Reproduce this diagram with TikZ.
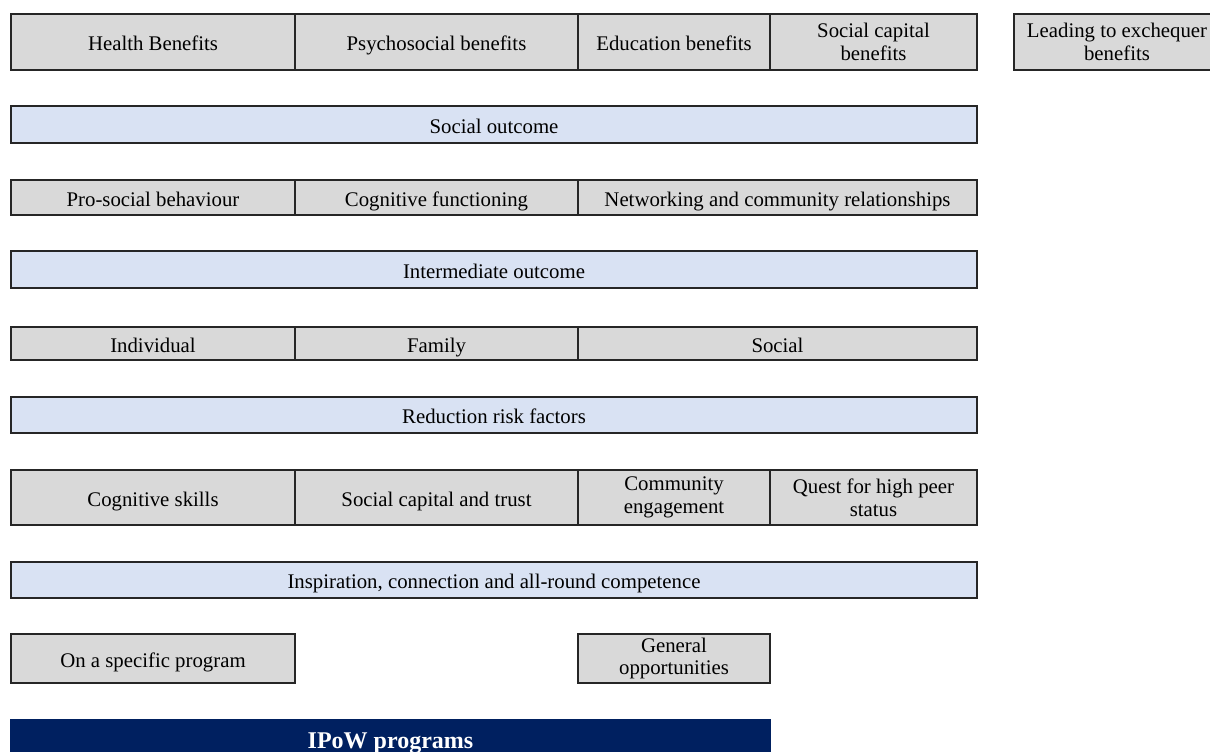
\documentclass[tikz,border=0pt]{standalone}
\usepackage{fontspec}
\setmainfont{Liberation Serif}
\usepackage{xcolor}
\usetikzlibrary{positioning}
\definecolor{mGrey}{HTML}{D9D9D9}
\definecolor{mBlue}{HTML}{D9E2F3}
\definecolor{mNavy}{HTML}{002060}

\begin{document}
\begin{tikzpicture}[x=1pt, y=-1pt,
  cell/.style={draw=black!85, line width=1.5pt, fill=mGrey, inner sep=0pt, outer sep=0pt,
               align=center, font=\fontsize{20.8}{22.8}\selectfont},
  oneline/.style={text height=17pt, text depth=0pt},
  band/.style={cell, oneline, fill=mBlue},
  base/.style={cell, text height=15pt, text depth=0pt, fill=mNavy, draw=mNavy, text=white,
               font=\fontsize{24}{26}\selectfont\bfseries},
]
  \useasboundingbox (0,0) rectangle (1210,752);

  % Top row: benefits
  \node[cell, oneline, minimum width=284pt, minimum height=56pt] (health) at (153,42) {Health Benefits};
  \node[cell, oneline, minimum width=283pt, minimum height=56pt] (psycho) at (436.5,42) {Psychosocial benefits};
  \node[cell, oneline, minimum width=192pt, minimum height=56pt] (educ) at (674,42) {Education benefits};
  \node[cell, minimum width=207pt, minimum height=56pt] (capital) at (873.5,42) {Social capital\\benefits};
  \node[cell, minimum width=206pt, minimum height=56pt] (exchequer) at (1117,42) {Leading to exchequer\\benefits};

  \node[band, minimum width=966pt, minimum height=37pt] (socout) at (494,124.5) {Social outcome};

  % Intermediate level
  \node[cell, oneline, minimum width=284pt, minimum height=35pt] (prosocial) at (153,197.5) {Pro-social behaviour};
  \node[cell, oneline, minimum width=283pt, minimum height=35pt] (cognitive) at (436.5,197.5) {Cognitive functioning};
  \node[cell, oneline, minimum width=399pt, minimum height=35pt] (network) at (777.5,197.5) {Networking and community relationships};

  \node[band, minimum width=966pt, minimum height=37pt] (interout) at (494,269.5) {Intermediate outcome};

  % Risk factors
  \node[cell, oneline, minimum width=284pt, minimum height=33pt] (individual) at (153,343.5) {Individual};
  \node[cell, oneline, minimum width=283pt, minimum height=33pt] (family) at (436.5,343.5) {Family};
  \node[cell, oneline, minimum width=399pt, minimum height=33pt] (social) at (777.5,343.5) {Social};

  \node[band, minimum width=966pt, minimum height=36pt] (risk) at (494,415) {Reduction risk factors};

  % Skills
  \node[cell, oneline, minimum width=284pt, minimum height=55pt] (skills) at (153,497.5) {Cognitive skills};
  \node[cell, oneline, minimum width=283pt, minimum height=55pt] (trust) at (436.5,497.5) {Social capital and trust};
  \node[cell, minimum width=192pt, minimum height=55pt] (engage) at (674,497.5) {Community\\engagement};
  \node[cell, minimum width=207pt, minimum height=55pt] (peer) at (873.5,497.5) {Quest for high peer\\status};

  \node[band, minimum width=966pt, minimum height=36pt] (inspire) at (494,580) {Inspiration, connection and all-round competence};

  % Programs
  \node[cell, oneline, minimum width=284pt, minimum height=49pt] (specific) at (153,658.5) {On a specific program};
  \node[cell, minimum width=192pt, minimum height=49pt] (general) at (674,658.5) {General\\opportunities};

  \node[base, minimum width=759pt, minimum height=42pt] (ipow) at (390.5,741) {IPoW programs};
\end{tikzpicture}
\end{document}
